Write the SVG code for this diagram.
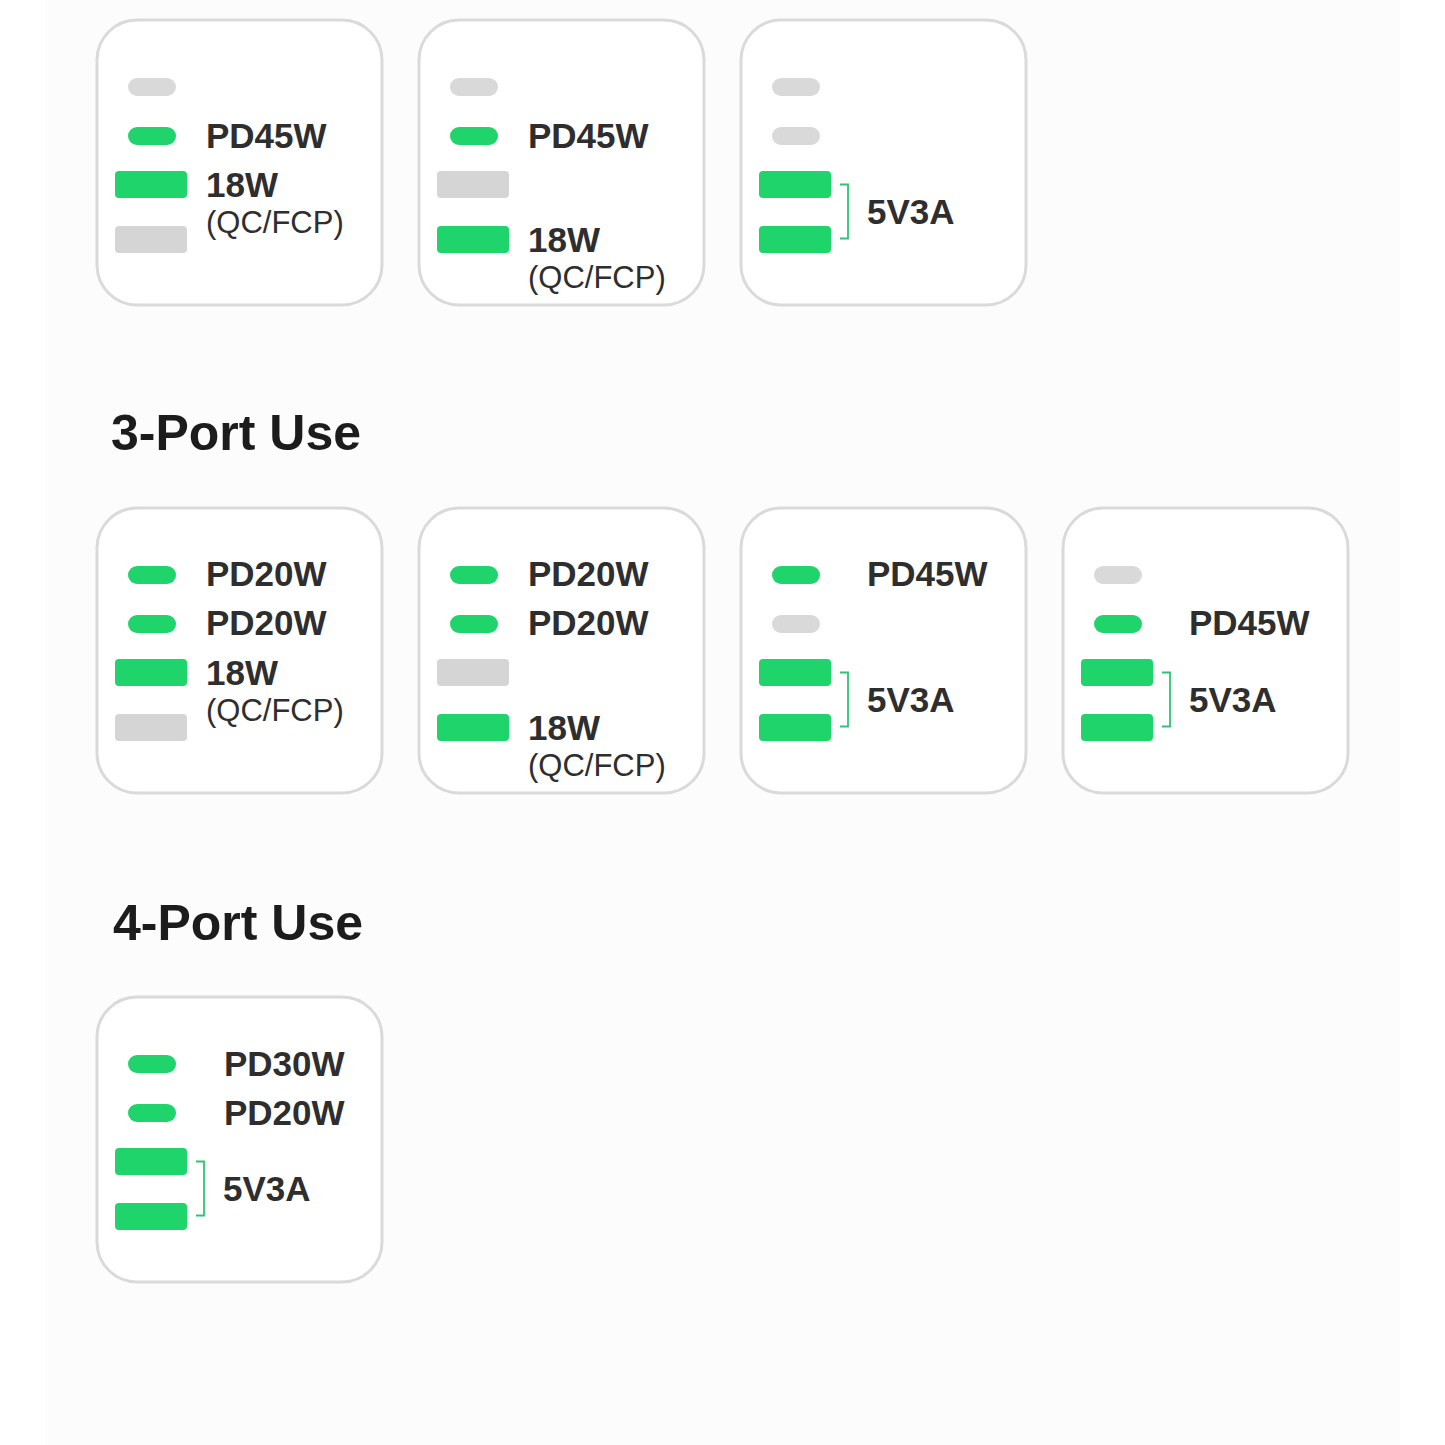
<svg xmlns="http://www.w3.org/2000/svg" width="1445" height="1445" viewBox="0 0 1445 1445">
<style>
.card{fill:#ffffff;stroke:#dadada;stroke-width:3}
.pg{fill:#1fd46a}
.px{fill:#d9d9d9}
.bg{fill:#1fd46a}
.bx{fill:#d5d5d5}
.lbl{font-family:"Liberation Sans",Arial,sans-serif;font-weight:bold;font-size:35px;fill:#2e2e2e}
.sub{font-family:"Liberation Sans",Arial,sans-serif;font-size:31px;fill:#2e2e2e}
.hd{font-family:"Liberation Sans",Arial,sans-serif;font-weight:bold;font-size:50px;fill:#1c1c1c}
.br{fill:none;stroke:#2fc475;stroke-width:1.8}
</style>
<defs>
<rect id="pg" class="pg" width="48" height="18" rx="9"/>
<rect id="px" class="px" width="48" height="18" rx="9"/>
<rect id="bg" class="bg" width="72" height="27" rx="4"/>
<rect id="bx" class="bx" width="72" height="27" rx="4"/>
</defs>
<rect width="1445" height="1445" fill="#ffffff"/>
<rect x="45" y="0" width="1355" height="1445" fill="#fcfcfc"/>

<g id="heading-3port"><text class="hd" x="111" y="450">3-Port Use</text></g>
<g id="heading-4port"><text class="hd" x="113" y="940">4-Port Use</text></g>

<!-- Row 1 -->
<g id="card-r1c1">
<rect class="card" x="97" y="20" width="285" height="285" rx="40"/>
<use href="#px" x="128" y="78"/>
<use href="#pg" x="128" y="127"/>
<use href="#bg" x="115" y="171"/>
<use href="#bx" x="115" y="226"/>
<text class="lbl" x="206" y="148">PD45W</text>
<text class="lbl" x="206" y="197">18W</text>
<text class="sub" x="206" y="233">(QC/FCP)</text>
</g>
<g id="card-r1c2">
<rect class="card" x="419" y="20" width="285" height="285" rx="40"/>
<use href="#px" x="450" y="78"/>
<use href="#pg" x="450" y="127"/>
<use href="#bx" x="437" y="171"/>
<use href="#bg" x="437" y="226"/>
<text class="lbl" x="528" y="148">PD45W</text>
<text class="lbl" x="528" y="252">18W</text>
<text class="sub" x="528" y="288">(QC/FCP)</text>
</g>
<g id="card-r1c3">
<rect class="card" x="741" y="20" width="285" height="285" rx="40"/>
<use href="#px" x="772" y="78"/>
<use href="#px" x="772" y="127"/>
<use href="#bg" x="759" y="171"/>
<use href="#bg" x="759" y="226"/>
<text class="lbl" x="867" y="224">5V3A</text>
</g>

<!-- Row 2 -->
<g id="card-r2c1">
<rect class="card" x="97" y="508" width="285" height="285" rx="40"/>
<use href="#pg" x="128" y="566"/>
<use href="#pg" x="128" y="615"/>
<use href="#bg" x="115" y="659"/>
<use href="#bx" x="115" y="714"/>
<text class="lbl" x="206" y="586">PD20W</text>
<text class="lbl" x="206" y="635">PD20W</text>
<text class="lbl" x="206" y="685">18W</text>
<text class="sub" x="206" y="721">(QC/FCP)</text>
</g>
<g id="card-r2c2">
<rect class="card" x="419" y="508" width="285" height="285" rx="40"/>
<use href="#pg" x="450" y="566"/>
<use href="#pg" x="450" y="615"/>
<use href="#bx" x="437" y="659"/>
<use href="#bg" x="437" y="714"/>
<text class="lbl" x="528" y="586">PD20W</text>
<text class="lbl" x="528" y="635">PD20W</text>
<text class="lbl" x="528" y="740">18W</text>
<text class="sub" x="528" y="776">(QC/FCP)</text>
</g>
<g id="card-r2c3">
<rect class="card" x="741" y="508" width="285" height="285" rx="40"/>
<use href="#pg" x="772" y="566"/>
<use href="#px" x="772" y="615"/>
<use href="#bg" x="759" y="659"/>
<use href="#bg" x="759" y="714"/>
<text class="lbl" x="867" y="586">PD45W</text>
<text class="lbl" x="867" y="712">5V3A</text>
</g>
<g id="card-r2c4">
<rect class="card" x="1063" y="508" width="285" height="285" rx="40"/>
<use href="#px" x="1094" y="566"/>
<use href="#pg" x="1094" y="615"/>
<use href="#bg" x="1081" y="659"/>
<use href="#bg" x="1081" y="714"/>
<text class="lbl" x="1189" y="635">PD45W</text>
<text class="lbl" x="1189" y="712">5V3A</text>
</g>

<!-- Row 3 -->
<g id="card-r3c1">
<rect class="card" x="97" y="997" width="285" height="285" rx="40"/>
<use href="#pg" x="128" y="1055"/>
<use href="#pg" x="128" y="1104"/>
<use href="#bg" x="115" y="1148"/>
<use href="#bg" x="115" y="1203"/>
<text class="lbl" x="224" y="1076">PD30W</text>
<text class="lbl" x="224" y="1125">PD20W</text>
<text class="lbl" x="223" y="1201">5V3A</text>
</g>

<g id="connectors">
<path class="br" d="M840 184.5 H848 V238.5 H840"/>
<path class="br" d="M840 672.5 H848 V726.5 H840"/>
<path class="br" d="M1162 672.5 H1170 V726.5 H1162"/>
<path class="br" d="M196 1161.5 H204 V1215.5 H196"/>
</g>
</svg>
